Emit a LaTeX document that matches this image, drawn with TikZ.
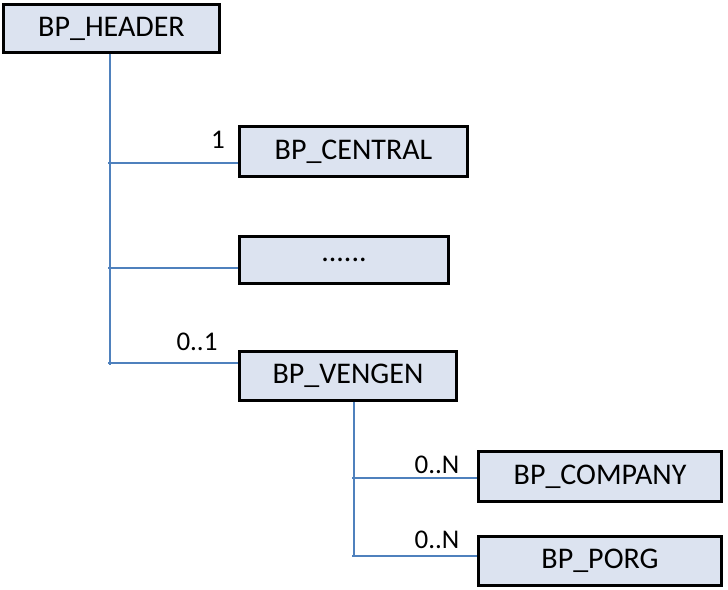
\documentclass[tikz,border=0pt]{standalone}
\usepackage{fontspec}
\setmainfont{Carlito}
\definecolor{boxfill}{RGB}{220,227,240}
\definecolor{linkblue}{RGB}{79,129,189}
\tikzset{
  entbox/.style={draw=black, line width=3pt, fill=boxfill, inner sep=0pt,
    font=\fontsize{30}{30}\selectfont},
  link/.style={draw=linkblue, line width=1.2pt},
  card/.style={inner sep=0pt, font=\fontsize{27}{27}\selectfont}
}
\begin{document}
\begin{tikzpicture}[x=1pt,y=-1pt]
\useasboundingbox (0,0) rectangle (728,589);
\node[entbox, minimum width=216pt, minimum height=48pt] (header) at (111.5,28.5) {BP\_HEADER};
\node[entbox, minimum width=228pt, minimum height=50pt] (central) at (353.5,151.5) {BP\_CENTRAL};
\node[entbox, minimum width=209pt, minimum height=47pt] (dots) at (344,260) {......};
\node[entbox, minimum width=217pt, minimum height=49pt] (vengen) at (348,376) {BP\_VENGEN};
\node[entbox, minimum width=243pt, minimum height=50pt] (company) at (600,476.5) {BP\_COMPANY};
\node[entbox, minimum width=243pt, minimum height=49pt] (porg) at (600,561) {BP\_PORG};
\coordinate (t1) at (110,365);
\coordinate (t2) at (354,557);
\coordinate (b1) at (108,163);
\coordinate (b2) at (108,268);
\coordinate (b3) at (108,363);
\coordinate (b4) at (352,478);
\coordinate (b5) at (352,556);
\begin{scope}[on background layer/.try]
\draw[link] (header.south -| t1) -- (t1);
\draw[link] (b1) -- (b1 -| central.west);
\draw[link] (b2) -- (b2 -| dots.west);
\draw[link] (b3) -- (b3 -| vengen.west);
\draw[link] (vengen.south -| t2) -- (t2);
\draw[link] (b4) -- (b4 -| company.west);
\draw[link] (b5) -- (b5 -| porg.west);
\end{scope}
\node[card] (c1) at (218,140) {1};
\node[card] (c2) at (197,342) {0..1};
\node[card] (c3) at (437,465) {0..N};
\node[card] (c4) at (437,540) {0..N};
\end{tikzpicture}
\end{document}
